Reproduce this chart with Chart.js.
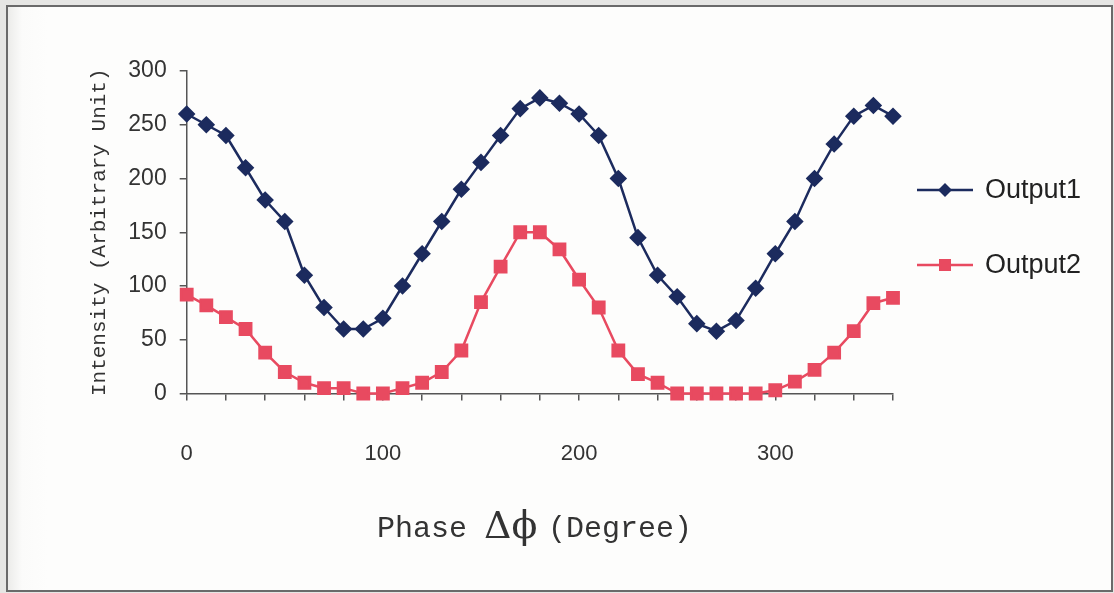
<!DOCTYPE html>
<html>
<head>
<meta charset="utf-8">
<script src="https://cdn.jsdelivr.net/npm/chart.js@4.4.0/dist/chart.umd.min.js"></script>
<style>
    html, body { margin: 0; padding: 0; background: #e6e6e4; }
    #wrap { position: relative; width: 1114px; height: 593px; overflow: hidden; }
    #frame { position: absolute; left: 6px; top: 5px; width: 1103px; height: 583px;
             border: 2px solid #6a6a6a;
             background: linear-gradient(to right, #ececea 0px, #fbfbfa 14px, #fdfdfc 40px); }
    #chart { position: absolute; left: 0; top: 0; }
</style>
</head>
<body>
<div id="wrap">
    <div id="frame"></div>
    <canvas id="chart" width="1114" height="593"></canvas>
</div>
<script>
const phase = [0, 10, 20, 30, 40, 50, 60, 70, 80, 90, 100, 110, 120, 130, 140, 150, 160, 170, 180,
    190, 200, 210, 220, 230, 240, 250, 260, 270, 280, 290, 300, 310, 320, 330, 340, 350, 360];
const output1 = [260, 250, 240, 210, 180, 160, 110, 80, 60, 60, 70, 100, 130, 160, 190, 215, 240, 265, 275,
    270, 260, 240, 200, 145, 110, 90, 65, 58, 68, 98, 130, 160, 200, 232, 258, 268, 258];
const output2 = [92, 82, 71, 60, 38, 20, 10, 5, 5, 0, 0, 5, 10, 20, 40, 85, 118, 150, 150,
    134, 106, 80, 40, 18, 10, 0, 0, 0, 0, 0, 3, 11, 22, 38, 58, 84, 89];
const xLabels = [0, 100, 200, 300];

const navy = '#1c2b5e';
const pink = '#e84a60';

// legend and x title drawn by hand (mixed fonts, line+marker swatch)
const extras = {
    id: 'extras',
    afterDraw(chart) {
        const ctx = chart.ctx;
        ctx.save();
        const items = [
            { label: 'Output1', color: navy, y: 190, shape: 'diamond' },
            { label: 'Output2', color: pink, y: 265, shape: 'square' }
        ];
        items.forEach(it => {
            ctx.strokeStyle = it.color;
            ctx.lineWidth = 2.5;
            ctx.beginPath();
            ctx.moveTo(917, it.y);
            ctx.lineTo(973, it.y);
            ctx.stroke();
            ctx.fillStyle = it.color;
            ctx.beginPath();
            if (it.shape === 'diamond') {
                ctx.moveTo(945, it.y - 7); ctx.lineTo(952, it.y);
                ctx.lineTo(945, it.y + 7); ctx.lineTo(938, it.y);
            } else {
                ctx.rect(939, it.y - 6, 12, 12);
            }
            ctx.closePath();
            ctx.fill();
            ctx.fillStyle = '#222';
            ctx.font = '27px "Liberation Sans", Arial, sans-serif';
            ctx.textBaseline = 'middle';
            ctx.textAlign = 'left';
            ctx.fillText(it.label, 985, it.y + 1);
        });

        ctx.fillStyle = '#333';
        ctx.textBaseline = 'alphabetic';
        ctx.font = '30px "Liberation Mono", "Courier New", monospace';
        ctx.fillText('Phase', 377, 537);
        ctx.fillText('(Degree)', 548, 537);
        ctx.font = '38px "DejaVu Serif", "Liberation Serif", serif';
        ctx.fillText('\u0394\u03d5', 484, 538);
        ctx.restore();
    }
};

const ctx = document.getElementById('chart').getContext('2d');
new Chart(ctx, {
    type: 'line',
    data: {
        datasets: [{
            label: 'Output1',
            data: phase.map((p, i) => ({ x: p, y: output1[i] })),
            borderColor: navy,
            backgroundColor: navy,
            borderWidth: 2.5,
            pointStyle: 'rectRot',
            pointRadius: 7,
            pointHoverRadius: 7,
            clip: false,
            tension: 0
        }, {
            label: 'Output2',
            data: phase.map((p, i) => ({ x: p, y: output2[i] })),
            borderColor: pink,
            backgroundColor: pink,
            borderWidth: 2.5,
            pointStyle: 'rect',
            pointRadius: 8,
            pointHoverRadius: 8,
            clip: false,
            tension: 0
        }]
    },
    options: {
        responsive: false,
        animation: false,
        events: [],
        layout: { padding: { left: 0, top: 71, right: 221, bottom: 0 } },
        plugins: { legend: { display: false }, tooltip: { enabled: false } },
        scales: {
            x: {
                type: 'linear',
                min: 0,
                max: 360,
                afterFit: scale => { scale.height = 199.5; },
                border: { color: '#555', width: 1.5 },
                grid: { drawOnChartArea: false, tickLength: 7, color: '#555', lineWidth: 1.5 },
                ticks: {
                    stepSize: 20,
                    autoSkip: false,
                    maxRotation: 0,
                    padding: 40,
                    color: '#333',
                    font: { family: '"Liberation Sans", Arial, sans-serif', size: 22 },
                    callback: v => xLabels.includes(v) ? String(v) : ''
                }
            },
            y: {
                min: 0,
                max: 300,
                afterFit: scale => { scale.width = 186.7; },
                border: { color: '#555', width: 1.5 },
                grid: { drawOnChartArea: false, tickLength: 7, color: '#555', lineWidth: 1.5 },
                ticks: {
                    stepSize: 50,
                    padding: 13,
                    color: '#333',
                    font: { family: '"Liberation Sans", Arial, sans-serif', size: 23 }
                },
                title: {
                    display: true,
                    text: 'Intensity (Arbitrary Unit)',
                    color: '#333',
                    font: { family: '"Liberation Mono", "Courier New", monospace', size: 21 },
                    padding: { top: 87, bottom: 0 }
                }
            }
        }
    },
    plugins: [extras]
});
</script>
</body>
</html>
